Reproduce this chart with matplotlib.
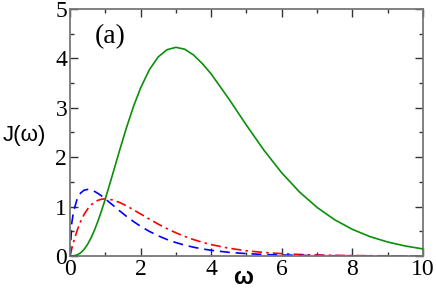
import matplotlib
matplotlib.use("Agg")
import matplotlib.pyplot as plt
from matplotlib.ticker import MultipleLocator

plt.rcParams["font.family"] = ["Liberation Serif", "DejaVu Serif"]

# omega grid and the three spectral densities
omega = [0, 0.05, 0.1, 0.2, 0.3, 0.4, 0.5, 0.6, 0.7, 0.8, 0.9, 1.0,
         1.2, 1.4, 1.6, 1.8, 2.0, 2.25, 2.5, 2.75, 3.0, 3.25, 3.5, 3.75,
         4.0, 4.5, 5.0, 5.5, 6.0, 6.5, 7.0, 7.5, 8.0, 8.5, 9.0, 9.5, 10.0]

j_super = [0, 0.0004, 0.0028, 0.0206, 0.0628, 0.1348, 0.2382, 0.3724,
           0.5351, 0.7227, 0.9312, 1.1557, 1.635, 2.126, 2.598, 3.029,
           3.401, 3.772, 4.030, 4.175, 4.223, 4.185, 4.068, 3.893, 3.683,
           3.180, 2.646, 2.136, 1.682, 1.297, 0.983, 0.733, 0.539, 0.392,
           0.283, 0.202, 0.143]

j_ohmic = [0, 0.1494, 0.2843, 0.5144, 0.6982, 0.8423, 0.9527, 1.0345,
           1.0921, 1.1293, 1.1496, 1.1557, 1.1355, 1.0846, 1.0149, 0.9347,
           0.8503, 0.7451, 0.6447, 0.5521, 0.4692, 0.3962, 0.3321, 0.2769,
           0.2302, 0.1571, 0.1058, 0.0706, 0.0467, 0.0307, 0.0201, 0.0130,
           0.0084, 0.0054, 0.0035, 0.0022, 0.0014]

j_sub = [0, 0.6682, 0.8989, 1.1502, 1.2747, 1.3319, 1.3473, 1.3355,
         1.3053, 1.2625, 1.2118, 1.1557, 1.0365, 0.9167, 0.8023, 0.6967,
         0.6012, 0.4967, 0.4078, 0.3329, 0.2710, 0.2197, 0.1775, 0.1430,
         0.1151, 0.0740, 0.0473, 0.0301, 0.0191, 0.0120, 0.0076, 0.0048,
         0.0030, 0.0019, 0.0012, 0.0007, 0.0005]

fig = plt.figure(figsize=(4.36, 2.98), dpi=100)
ax = fig.add_axes([0.1606, 0.141, 0.8094, 0.829])

ax.plot(omega, j_super, color="#0a8f0a", lw=1.2, zorder=3)
ax.plot(omega, j_ohmic, color="#ff0000", lw=1.2, dashes=(6, 2.5, 1.5, 2.5), zorder=2)
ax.plot(omega, j_sub, color="#0000ff", lw=1.2, dashes=(6, 3.5), zorder=2)

ax.set_xlim(0, 10)
ax.set_ylim(0, 5)
ax.xaxis.set_major_locator(MultipleLocator(2))
ax.xaxis.set_minor_locator(MultipleLocator(1))
ax.yaxis.set_major_locator(MultipleLocator(1))
ax.yaxis.set_minor_locator(MultipleLocator(0.5))
ax.tick_params(which="both", direction="in", top=True, right=True,
               color="#333333", width=1.0, labelsize=17, pad=2)
ax.tick_params(which="major", length=6)
ax.tick_params(which="minor", length=3)
for sp in ax.spines.values():
    sp.set_color("#777777")
    sp.set_linewidth(1.3)

ax.text(0.7, 4.43, "(a)", fontsize=20, ha="left", va="center")

fig.text(0.005, 0.544, "J(\u03c9)", fontsize=16, family="Liberation Sans",
         ha="left", va="center")
fig.text(0.557, 0.068, "\u03c9", fontsize=17, family="Liberation Sans",
         fontweight="bold", ha="center", va="center")

fig.savefig("out.png", dpi=100)
